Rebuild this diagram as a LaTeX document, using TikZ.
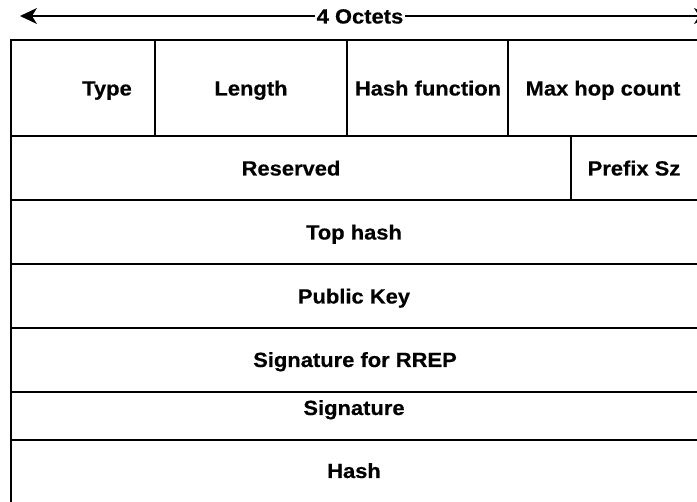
\documentclass[tikz,border=0pt]{standalone}
\usepackage{fontspec}
\setmainfont[FakeStretch=1.07, BoldFeatures={FakeBold=0.5}]{Liberation Sans}
\usetikzlibrary{arrows.meta}
\tikzset{
  grid/.style={line width=1.5pt, black},
  field/.style={inner sep=0pt, font=\fontsize{20.5}{24}\selectfont\bfseries, anchor=base},
  span/.style={line width=1.2pt, {Stealth[length=17pt,width=16pt,inset=5pt]}-{Stealth[length=17pt,width=16pt,inset=5pt]}}
}
\begin{document}
\begin{tikzpicture}[x=1pt,y=-1pt]
\useasboundingbox (0,0) rectangle (697,502);
\clip (0,0) rectangle (697,502);

% width marker across the top
\coordinate (wl) at (20,16);
\coordinate (wr) at (711,16);
\draw[span] (wl) -- (wr);
\node[field, fill=white, inner xsep=2pt, inner ysep=1pt] (octets) at (360,23.5) {4 Octets};

% frame and row separators
\draw[grid] (11,520) -- (11,40) -- (712,40);
\foreach \yy in {136,200,264,328,392,440}
  \draw[grid] (11,\yy) -- (712,\yy);
% column separators
\draw[grid] (155,40) -- (155,136);
\draw[grid] (347,40) -- (347,136);
\draw[grid] (508,40) -- (508,136);
\draw[grid] (571,136) -- (571,200);

% field labels (placed on their baselines)
\node[field] (type)    at (107,95.5)  {Type};
\node[field] (length)  at (251,95.5)  {Length};
\node[field] (hashfn)  at (428,95.5)  {Hash function};
\node[field] (maxhop)  at (603,95.5)  {Max hop count};
\node[field] (resv)    at (291,175.5) {Reserved};
\node[field] (prefix)  at (634,175.5) {Prefix Sz};
\node[field] (tophash) at (354,239.5) {Top hash};
\node[field] (pubkey)  at (354,303.5) {Public Key};
\node[field] (sigrrep) at (355,367) {Signature for RREP};
\node[field] (sig)     at (354,415) {Signature};
\node[field] (hash)    at (354,478) {Hash};
\end{tikzpicture}
\end{document}
